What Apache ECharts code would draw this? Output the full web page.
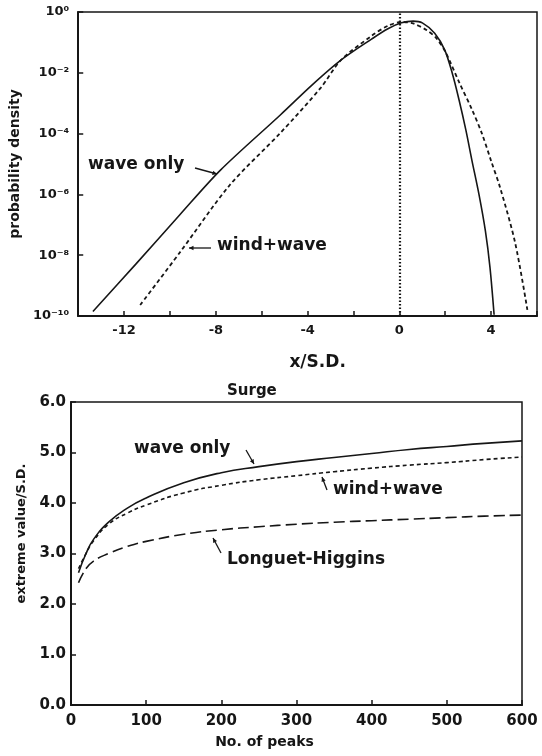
<!DOCTYPE html>
<html>
<head>
<meta charset="utf-8">
<script src="https://cdn.jsdelivr.net/npm/echarts@6/dist/echarts.min.js"></script>
<style>
  html, body { margin: 0; padding: 0; background: #fff; }
  #chart { width: 542px; height: 756px; }
</style>
</head>
<body>
<div id="chart"></div>
<script>
// top panel: probability density vs x/S.D.
const waveOnlyX   = [-13.36, -11.5, -9.58, -7.8, -5.19, -3.8, -2.55, -1.2, -0.5, 0.09, 0.6, 1.0, 1.54, 1.98, 2.3, 2.6, 2.9, 3.16, 3.47, 3.75, 3.95, 4.13];
const waveOnlyPdf = [1.4e-10, 5.0e-9, 2.1e-7, 6.3e-6, 4.1e-4, 4.0e-3, 2.6e-2, 0.13, 0.28, 0.44, 0.50, 0.44, 0.20, 0.056, 1.0e-2, 1.3e-3, 1.3e-4, 1.35e-5, 1.0e-6, 6.3e-8, 4.0e-9, 1.1e-10];
const windWaveX   = [-11.3, -9.58, -7.4, -5.19, -3.43, -2.55, -1.23, -0.5, 0.1, 0.6, 1.2, 1.6, 2.0, 2.6, 3.16, 3.6, 4.0, 4.4, 5.05, 5.58];
const windWavePdf = [2.3e-10, 1.2e-8, 2.0e-6, 1.05e-4, 3.2e-3, 2.6e-2, 0.16, 0.35, 0.47, 0.42, 0.25, 0.14, 0.05, 5.0e-3, 6.3e-4, 1.0e-4, 1.26e-5, 1.6e-6, 2.5e-8, 1.6e-10];

// bottom panel: extreme value/S.D. vs number of peaks
const peaks        = [10, 20, 30, 50, 75, 100, 150, 200, 250, 300, 350, 400, 450, 500, 550, 600];
const waveOnlyExt  = [2.62, 3.0, 3.28, 3.62, 3.9, 4.1, 4.4, 4.6, 4.72, 4.82, 4.9, 4.98, 5.06, 5.12, 5.18, 5.23];
const windWaveExt  = [2.7, 3.0, 3.25, 3.58, 3.8, 3.96, 4.2, 4.35, 4.46, 4.54, 4.62, 4.69, 4.75, 4.8, 4.86, 4.91];
const longuetExt   = [2.42, 2.7, 2.85, 3.0, 3.14, 3.24, 3.38, 3.47, 3.53, 3.58, 3.62, 3.65, 3.68, 3.71, 3.74, 3.76];

const zip = (xs, ys) => xs.map((x, i) => [x, ys[i]]);
const SUP = { '0': '⁰', '1': '¹', '2': '²', '3': '³', '4': '⁴', '5': '⁵', '6': '⁶', '7': '⁷', '8': '⁸', '9': '⁹', '-': '⁻' };
const ink = '#161616';
const font = 'DejaVu Sans';

const axisLabel = { color: ink, fontFamily: font, fontWeight: 'bold', fontSize: 13 };
const axisName = { color: ink, fontFamily: font, fontWeight: 'bold', fontSize: 14 };
const tick = { inside: true, length: 5, lineStyle: { color: ink, width: 1.5 } };
// onZero off, otherwise the y axis of the top panel sits on x = 0
const line = { show: true, onZero: false, lineStyle: { color: ink, width: 2 } };

const chart = echarts.init(document.getElementById('chart'));

// small helper for the hand-drawn pointer arrows next to the curve labels
function arrow(x1, y1, x2, y2) {
  const a = Math.atan2(y2 - y1, x2 - x1), h = 5;
  return [
    { type: 'line', shape: { x1, y1, x2, y2 }, style: { stroke: ink, lineWidth: 1.3 } },
    { type: 'polygon', shape: { points: [[x2, y2],
        [x2 - h * Math.cos(a - 0.45), y2 - h * Math.sin(a - 0.45)],
        [x2 - h * Math.cos(a + 0.45), y2 - h * Math.sin(a + 0.45)]] },
      style: { fill: ink } }
  ];
}
function note(text, x, y, size) {
  return { type: 'text', left: x, top: y,
    style: { text, fill: ink, font: 'bold ' + (size || 17) + 'px "' + font + '"' } };
}

const option = {
  animation: false,
  backgroundColor: '#fff',
  title: {
    text: 'Surge', left: 222, top: 379,
    textStyle: { color: ink, fontFamily: font, fontWeight: 'bold', fontSize: 15 }
  },
  grid: [
    { left: 77, right: 5, top: 12, bottom: 440, show: true, borderColor: ink, borderWidth: 1.5 },
    { left: 71, right: 20, top: 402, bottom: 51, show: true, borderColor: ink, borderWidth: 1.5 }
  ],
  xAxis: [
    {
      gridIndex: 0, type: 'value', min: -14, max: 6, interval: 2,
      name: 'x/S.D.', nameLocation: 'middle', nameGap: 38,
      nameTextStyle: Object.assign({}, axisName, { fontSize: 17, padding: [0, 0, 0, 20] }),
      axisLine: line, axisTick: tick, splitLine: { show: false },
      axisLabel: Object.assign({}, axisLabel, { margin: 8,
        formatter: v => (v % 4 === 0 && v >= -12 && v <= 4) ? String(v) : '' })
    },
    {
      gridIndex: 1, type: 'value', min: 0, max: 600, interval: 100,
      name: 'No. of peaks', nameLocation: 'middle', nameGap: 30,
      nameTextStyle: Object.assign({}, axisName, { fontSize: 14, padding: [0, 64, 0, 0] }),
      axisLine: line, axisTick: tick, splitLine: { show: false },
      axisLabel: Object.assign({}, axisLabel, { fontSize: 15, margin: 9 })
    }
  ],
  yAxis: [
    {
      gridIndex: 0, type: 'log', logBase: 10, min: 1e-10, max: 1, interval: 2, splitNumber: 5,
      name: 'probability density', nameLocation: 'middle', nameGap: 46,
      nameTextStyle: axisName,
      axisLine: line, axisTick: tick, splitLine: { show: false },
      axisLabel: Object.assign({}, axisLabel, { margin: 9,
        formatter: v => '10' + String(Math.round(Math.log10(v))).split('').map(c => SUP[c]).join('') })
    },
    {
      gridIndex: 1, type: 'value', min: 0, max: 6, interval: 1,
      name: 'extreme value/S.D.', nameLocation: 'middle', nameGap: 40,
      nameTextStyle: Object.assign({}, axisName, { fontSize: 13, padding: [0, 0, 0, 40] }),
      axisLine: line, axisTick: tick, splitLine: { show: false },
      axisLabel: Object.assign({}, axisLabel, { fontSize: 15, margin: 5, formatter: v => v.toFixed(1) })
    }
  ],
  series: [
    {
      name: 'wave only', type: 'line', xAxisIndex: 0, yAxisIndex: 0,
      data: zip(waveOnlyX, waveOnlyPdf), smooth: 0.3, showSymbol: false,
      lineStyle: { color: ink, width: 1.6 },
      markLine: {
        silent: true, symbol: 'none', label: { show: false },
        lineStyle: { color: ink, type: [1.5, 2], width: 2.2 },
        data: [{ xAxis: 0 }]
      }
    },
    {
      name: 'wind+wave', type: 'line', xAxisIndex: 0, yAxisIndex: 0,
      data: zip(windWaveX, windWavePdf), smooth: 0.3, showSymbol: false,
      lineStyle: { color: ink, width: 1.8, type: [4, 3] }
    },
    {
      name: 'wave only', type: 'line', xAxisIndex: 1, yAxisIndex: 1,
      data: zip(peaks, waveOnlyExt), smooth: true, showSymbol: false,
      lineStyle: { color: ink, width: 1.6 }
    },
    {
      name: 'wind+wave', type: 'line', xAxisIndex: 1, yAxisIndex: 1,
      data: zip(peaks, windWaveExt), smooth: true, showSymbol: false,
      lineStyle: { color: ink, width: 1.6, type: [4, 3] }
    },
    {
      name: 'Longuet-Higgins', type: 'line', xAxisIndex: 1, yAxisIndex: 1,
      data: zip(peaks, longuetExt), smooth: true, showSymbol: false,
      lineStyle: { color: ink, width: 1.6, type: [11, 5] }
    }
  ],
  graphic: [
    note('wave only', 88, 156),
    ...arrow(195, 168, 217, 174),
    note('wind+wave', 217, 237),
    ...arrow(211, 248, 189, 248),
    note('wave only', 134, 440),
    ...arrow(246, 450, 254, 464),
    note('wind+wave', 333, 481),
    ...arrow(327, 490, 322, 477),
    note('Longuet-Higgins', 227, 551),
    ...arrow(221, 553, 213, 538)
  ]
};

chart.setOption(option);
</script>
</body>
</html>
